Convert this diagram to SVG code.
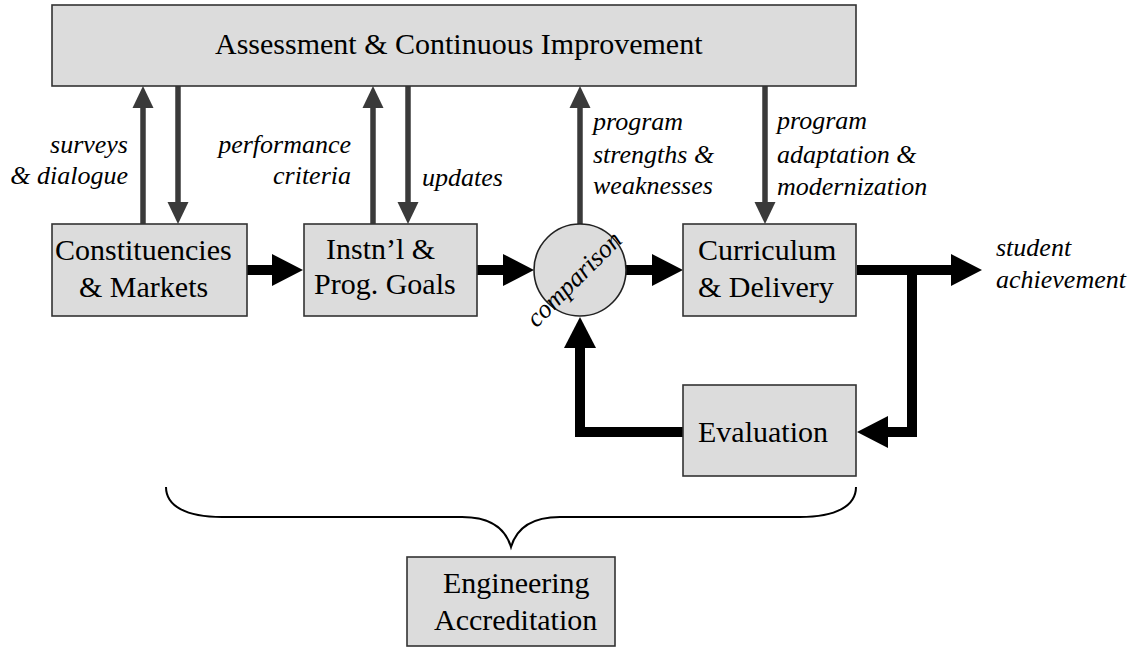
<svg xmlns="http://www.w3.org/2000/svg" width="1136" height="649" viewBox="0 0 1136 649">
  <style>
    .box { fill: #dcdcdc; stroke: #333; stroke-width: 1.6; }
    .lbl { font-family: 'Liberation Serif', Tinos, 'Times New Roman', serif; font-size: 30px; fill: #000; }
    .it { font-family: 'Liberation Serif', Tinos, 'Times New Roman', serif; font-size: 26px; font-style: italic; fill: #000; }
    .thin { fill: none; stroke: #3a3a3a; stroke-width: 5.5; }
    .thick { fill: none; stroke: #000; stroke-width: 10; stroke-linejoin: miter; }
    .brace { fill: none; stroke: #000; stroke-width: 2; }
  </style>
  <defs>
    <marker id="headThin" markerUnits="userSpaceOnUse" orient="auto" refX="0" refY="0" markerWidth="24" markerHeight="24" overflow="visible">
      <path d="M0,-10.5 L22,0 L0,10.5 Z" fill="#3a3a3a"/>
    </marker>
    <marker id="headThick" markerUnits="userSpaceOnUse" orient="auto" refX="0" refY="0" markerWidth="34" markerHeight="34" overflow="visible">
      <path d="M0,-16 L31,0 L0,16 Z" fill="#000"/>
    </marker>
  </defs>

  <!-- connectors -->
  <g id="connectors">
    <!-- thin links to and from the assessment bar -->
    <line class="thin" x1="143" y1="224" x2="143" y2="108" marker-end="url(#headThin)"/>
    <line class="thin" x1="178" y1="86" x2="178" y2="202" marker-end="url(#headThin)"/>
    <line class="thin" x1="373" y1="224" x2="373" y2="108" marker-end="url(#headThin)"/>
    <line class="thin" x1="408" y1="86" x2="408" y2="202" marker-end="url(#headThin)"/>
    <line class="thin" x1="580" y1="224" x2="580" y2="108" marker-end="url(#headThin)"/>
    <line class="thin" x1="765" y1="86" x2="765" y2="202" marker-end="url(#headThin)"/>

    <!-- main flow -->
    <line class="thick" x1="247" y1="270" x2="272" y2="270" marker-end="url(#headThick)"/>
    <line class="thick" x1="477" y1="270" x2="503" y2="270" marker-end="url(#headThick)"/>
    <line class="thick" x1="626" y1="270" x2="652" y2="270" marker-end="url(#headThick)"/>
    <line class="thick" x1="857" y1="270" x2="951" y2="270" marker-end="url(#headThick)"/>

    <!-- feedback loop -->
    <path class="thick" d="M912,265 V432 H888" marker-end="url(#headThick)"/>
    <path class="thick" d="M683,432 H580 V348" marker-end="url(#headThick)"/>

    <!-- brace -->
    <path class="brace" d="M166,487 C166,506 186,517 222,517 L462,517 C492,517 506,530 511,547 C516,530 530,517 560,517 L800,517 C836,517 856,506 856,487"/>
  </g>

  <g id="assessment">
    <rect class="box" x="52" y="5" width="804" height="81"/>
    <text class="lbl" x="215" y="54">Assessment &amp; Continuous Improvement</text>
  </g>

  <g id="constituencies">
    <rect class="box" x="52" y="224" width="195" height="92"/>
    <text class="lbl" x="55" y="260">Constituencies</text>
    <text class="lbl" x="79" y="297">&amp; Markets</text>
  </g>

  <g id="goals">
    <rect class="box" x="304" y="224" width="173" height="92"/>
    <text class="lbl" x="326" y="259">Instn’l &amp;</text>
    <text class="lbl" x="314" y="294">Prog. Goals</text>
  </g>

  <g id="comparison">
    <circle cx="580" cy="270" r="46" fill="#dcdcdc" stroke="#222" stroke-width="1.6"/>
    <text class="it" font-size="24" text-anchor="middle" transform="translate(580,285) rotate(-45)">comparison</text>
  </g>

  <g id="curriculum">
    <rect class="box" x="683" y="224" width="173" height="92"/>
    <text class="lbl" x="698" y="260">Curriculum</text>
    <text class="lbl" x="698" y="297">&amp; Delivery</text>
  </g>

  <g id="evaluation">
    <rect class="box" x="683" y="385" width="173" height="91"/>
    <text class="lbl" x="698" y="442">Evaluation</text>
  </g>

  <g id="accreditation">
    <rect class="box" x="407" y="557" width="208" height="89"/>
    <text class="lbl" x="443" y="593">Engineering</text>
    <text class="lbl" x="434" y="630">Accreditation</text>
  </g>

  <!-- connector labels -->
  <g id="labels">
    <text class="it" text-anchor="end" x="128" y="153">surveys</text>
    <text class="it" text-anchor="end" x="128" y="184">&amp; dialogue</text>
    <text class="it" text-anchor="end" x="351" y="153">performance</text>
    <text class="it" text-anchor="end" x="351" y="184">criteria</text>
    <text class="it" x="422" y="186">updates</text>
    <text class="it" x="593" y="130">program</text>
    <text class="it" x="593" y="163">strengths &amp;</text>
    <text class="it" x="593" y="194">weaknesses</text>
    <text class="it" x="777" y="129">program</text>
    <text class="it" x="777" y="163">adaptation &amp;</text>
    <text class="it" x="777" y="195">modernization</text>
    <text class="it" x="996" y="256">student</text>
    <text class="it" x="996" y="288">achievement</text>
  </g>
</svg>
